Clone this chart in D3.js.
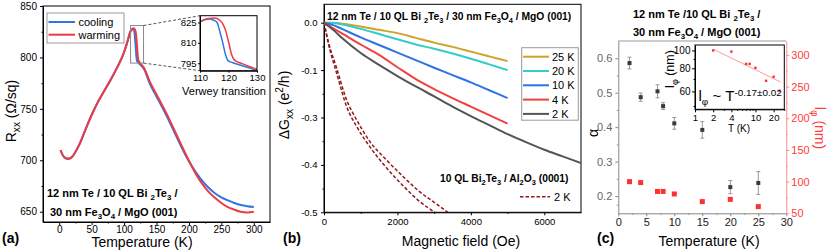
<!DOCTYPE html>
<html>
<head>
<meta charset="utf-8">
<script src="https://cdn.jsdelivr.net/npm/d3@7"></script>
<style>
body { margin: 0; background: #fff; }
svg { display: block; font-family: "Liberation Sans", Arial, sans-serif; }
</style>
</head>
<body>
<svg id="fig" width="830" height="252"></svg>
<script>
// ---- panel (a): R_xx vs temperature
var tempA = [2, 5, 10, 15, 20, 30, 40, 50, 60, 70, 80, 90, 100, 105, 110, 113, 115, 116, 117, 118, 119, 120, 121, 122, 125, 128, 130,
             140, 150, 160, 170, 180, 190, 200, 210, 220, 230, 240, 250, 260, 270, 280, 290, 300];
var coolingR = [710, 705.5, 702, 701.5, 703.5, 714, 729, 744, 757, 768, 779, 791, 805, 815, 825.5, 827.5, 826.5, 825, 818, 810, 801, 796.5, 795.8, 795, 793, 791, 789.5,
                774, 762, 750, 737.5, 724, 711, 699, 689, 680.5, 673.5, 668, 664, 661, 658.5, 656.5, 655.3, 654.5];
var warmingR = [710, 705.5, 702, 701.5, 703.5, 714, 729, 744, 757, 768, 779, 791, 805, 815, 825.5, 828, 828.3, 828, 826.5, 824, 819, 811, 802, 797.5, 794.5, 792, 790.5,
                776, 764, 752, 739.5, 726, 712.5, 699.5, 687.5, 677.5, 669.5, 663.5, 658.5, 654.5, 652, 650, 649.3, 650];
var rTicksA = [650, 700, 750, 800, 850];
var tTicksA = [0, 50, 100, 150, 200, 250, 300];
var insetTTicksA = [110, 120, 130];
var insetRTicksA = [795, 810, 825];
var legendA = ["cooling", "warming"];

// ---- panel (b): magnetoconductance
var fieldB = [0, 250, 500, 1000, 1500, 2000, 2500, 3000, 3500, 4000, 4500, 5000];
var g25 = [0, -0.0003, -0.002, -0.008, -0.015, -0.022, -0.032, -0.042, -0.051, -0.061, -0.071, -0.081];
var g20 = [0, -0.0006, -0.004, -0.013, -0.024, -0.035, -0.046, -0.055, -0.065, -0.076, -0.088, -0.100];
var g10 = [0, -0.005, -0.0135, -0.031, -0.047, -0.063, -0.079, -0.095, -0.121, -0.152, -0.185, -0.218];
var g4 = [0, -0.012, -0.023, -0.046, -0.068, -0.094, -0.138, -0.180, -0.218, -0.254, -0.290, -0.313];
var fieldB2 = [0, 250, 500, 1000, 1500, 2000, 2500, 3000, 3500, 4000, 4500, 5000, 5500, 6000, 6500, 7000];
var g2 = [0, -0.015, -0.033, -0.064, -0.089, -0.125, -0.169, -0.211, -0.254, -0.294, -0.316, -0.335, -0.352, -0.368, -0.382, -0.396];
var fieldD1 = [0, 118, 345, 617, 889, 1252, 1706, 2160, 2612, 3020];
var gD1 = [0, -0.0435, -0.1135, -0.254, -0.319, -0.362, -0.4065, -0.4445, -0.4776, -0.5];
var fieldD2 = [0, 118, 345, 617, 889, 1252, 1706, 2160, 2612, 3066, 3375];
var gD2 = [0, -0.040, -0.096, -0.226, -0.305, -0.351, -0.390, -0.425, -0.457, -0.4825, -0.5];
var gTicks = [0, -0.1, -0.3, -0.4, -0.5];
var gTickLabels = ["0.0", "-0.1", "-0.3", "-0.4", "-0.5"];
var hTicks = [0, 2000, 4000, 6000];
var legendB = ["25 K", "20 K", "10 K", "4 K", "2 K"];

// ---- panel (c): alpha and l_phi vs temperature
var tempC = [2, 4, 7, 8, 10, 15, 20, 25];
var alphaC = [0.586, 0.487, 0.504, 0.461, 0.411, 0.392, 0.226, 0.238];
var alphaErr = [0.017, 0.012, 0.019, 0.010, 0.017, 0.024, 0.019, 0.033];
var lphiC = [100, 98.5, 84.5, 84.5, 80.5, 68.5, 72, 60.5];
var fitT = [2, 26];
var fitL = [101.5, 67.5];
var tTicksC = [0, 5, 10, 15, 20, 25, 30];
var alphaTicks = [0.2, 0.3, 0.4, 0.5, 0.6];
var lphiTicks = [50, 100, 150, 200, 250, 300];
var insetLTicks = [60, 80, 100];
var insetTTicksC = [1, 2, 4, 10, 20];

var FONT = '"Liberation Sans", Arial, sans-serif';
var svg = d3.select("#fig");

// text with sub/superscripts: parts = [[text, "sub"|"sup"|undefined], ...]
function rich(parent, x, y, parts, size, o) {
  o = o || {};
  var ratio = o.ratio || 0.72;
  var t = parent.append("text").attr("x", x).attr("y", y)
      .attr("font-size", size).attr("font-family", FONT);
  if (o.anchor) t.attr("text-anchor", o.anchor);
  if (o.weight) t.attr("font-weight", o.weight);
  if (o.fill) t.attr("fill", o.fill);
  if (o.transform) t.attr("transform", o.transform);
  var cur = 0;
  parts.forEach(function(p) {
    var off = p[1] === "sub" ? size * (o.sub || 0.3) : p[1] === "sup" ? -size * (o.sup || 0.4) : 0;
    t.append("tspan").attr("dy", off - cur).attr("font-size", p[1] ? size * ratio : size).text(p[0]);
    cur = off;
  });
  return t;
}

function axis(g, fn, scale, ticks, minor, o) {
  var a = fn(scale).tickValues(ticks).tickSize(o.size).tickSizeOuter(0).tickPadding(o.pad);
  a.tickFormat(o.format || d3.format("d"));
  var ax = g.append("g").attr("transform", o.transform || null).call(a);
  ax.select(".domain").attr("stroke", o.color || "#000");
  ax.selectAll(".tick line").attr("stroke", o.color || "#000");
  ax.selectAll(".tick text").attr("fill", o.textColor || "#000")
    .attr("font-size", o.fs).attr("font-family", FONT);
  if (minor) {
    var m = g.append("g").attr("transform", o.transform || null)
      .call(fn(scale).tickValues(minor).tickSize(o.size / 2).tickSizeOuter(0).tickFormat(""));
    m.select(".domain").remove();
    m.selectAll("line").attr("stroke", o.color || "#000");
  }
  return ax;
}

function mids(arr) {
  var out = [];
  for (var i = 0; i < arr.length - 1; i++) out.push((arr[i] + arr[i + 1]) / 2);
  return out;
}

function initPanelA() {
  var L = 43, R = 270, T = 6, B = 222;
  var x = d3.scaleLinear().domain([-25, 325]).range([L, R]);
  var y = d3.scaleLinear().domain([640, 850]).range([B, T]);
  var g = svg.append("g");
  var blue = "#2B78E4", red = "#EE3A43";

  g.append("rect").attr("x", L).attr("y", T).attr("width", R - L).attr("height", B - T)
    .attr("fill", "none").attr("stroke", "#000");
  axis(g, d3.axisBottom, x, tTicksA, mids(tTicksA), {transform: "translate(0," + B + ")", size: 3, pad: 1, fs: 10});
  axis(g, d3.axisLeft, y, rTicksA, mids(rTicksA), {transform: "translate(" + L + ",0)", size: 3, pad: 3, fs: 10});

  var line = d3.line().x(function(d) { return x(d[0]); }).y(function(d) { return y(d[1]); }).curve(d3.curveMonotoneX);
  g.append("path").datum(d3.zip(tempA, coolingR)).attr("d", line).attr("fill", "none").attr("stroke", blue).attr("stroke-width", 2);
  g.append("path").datum(d3.zip(tempA, warmingR)).attr("d", line).attr("fill", "none").attr("stroke", red).attr("stroke-width", 2);

  // zoom box + connectors
  var zx0 = x(110), zx1 = x(130), zy0 = y(831), zy1 = y(794.5);
  g.append("rect").attr("x", zx0).attr("y", zy0).attr("width", zx1 - zx0).attr("height", zy1 - zy0)
    .attr("fill", "none").attr("stroke", "#888");

  // inset
  var iL = 200, iR = 257, iT = 15.7, iB = 70.7;
  var ix = d3.scaleLinear().domain([110, 130]).range([iL, iR]);
  var iy = d3.scaleLinear().domain([789.5, 830]).range([iB, iT]);
  g.append("line").attr("x1", zx1).attr("y1", zy0).attr("x2", iL).attr("y2", iT).attr("stroke", "#555").attr("stroke-dasharray", "3,2");
  g.append("line").attr("x1", zx1).attr("y1", zy1).attr("x2", iL).attr("y2", iB).attr("stroke", "#555").attr("stroke-dasharray", "3,2");
  g.append("rect").attr("x", iL).attr("y", iT).attr("width", iR - iL).attr("height", iB - iT).attr("fill", "#fff");
  svg.append("clipPath").attr("id", "clipA").append("rect").attr("x", iL).attr("y", iT).attr("width", iR - iL).attr("height", iB - iT);
  var iline = d3.line().x(function(d) { return ix(d[0]); }).y(function(d) { return iy(d[1]); }).curve(d3.curveMonotoneX);
  var gi = g.append("g").attr("clip-path", "url(#clipA)");
  gi.append("path").datum(d3.zip(tempA, coolingR)).attr("d", iline).attr("fill", "none").attr("stroke", blue).attr("stroke-width", 1.5);
  gi.append("path").datum(d3.zip(tempA, warmingR)).attr("d", iline).attr("fill", "none").attr("stroke", red).attr("stroke-width", 1.5);
  g.append("rect").attr("x", iL).attr("y", iT).attr("width", iR - iL).attr("height", iB - iT).attr("fill", "none").attr("stroke", "#000");
  axis(g, d3.axisBottom, ix, insetTTicksA, null, {transform: "translate(0," + iB + ")", size: 2, pad: 2, fs: 9.5});
  axis(g, d3.axisLeft, iy, insetRTicksA, null, {transform: "translate(" + iL + ",0)", size: 2, pad: 1.5, fs: 9.5});
  g.append("text").attr("x", 224).attr("y", 94.5).attr("text-anchor", "middle").attr("font-size", 11)
    .attr("font-family", FONT).text("Verwey transition");

  // legend
  g.append("rect").attr("x", 47).attr("y", 13).attr("width", 77).attr("height", 30).attr("fill", "#fff").attr("stroke", "#999");
  [blue, red].forEach(function(c, i) {
    var yy = 22 + i * 12.7;
    g.append("line").attr("x1", 48.5).attr("x2", 75).attr("y1", yy).attr("y2", yy).attr("stroke", c).attr("stroke-width", 2);
    g.append("text").attr("x", 78.5).attr("y", yy + 4).attr("font-size", 11).attr("font-family", FONT).text(legendA[i]);
  });

  rich(g, 47, 196.5, [["12 nm Te / 10 QL Bi "], ["2", "sub"], ["Te"], ["3", "sub"], [" /"]], 11, {weight: "bold"});
  rich(g, 50, 215.5, [["30 nm Fe"], ["3", "sub"], ["O"], ["4", "sub"], [" / MgO (001)"]], 11, {weight: "bold"});

  rich(g, 0, 0, [["R"], ["xx", "sub"], [" (Ω/sq)"]], 14, {anchor: "middle", transform: "translate(16,111) rotate(-90)"});
  g.append("text").attr("x", 142).attr("y", 247).attr("text-anchor", "middle").attr("font-size", 14)
    .attr("font-family", FONT).text("Temperature (K)");
  g.append("text").attr("x", 2).attr("y", 243).attr("font-size", 14).attr("font-weight", "bold")
    .attr("font-family", FONT).text("(a)");
}

function initPanelB() {
  var L = 324, R = 581, T = 4.3, B = 212.3;
  var x = d3.scaleLinear().domain([0, 7000]).range([L, R]);
  var step = (B - 22.7) / 4;
  var y = d3.scaleLinear().domain([0.0388, 0].concat(gTicks.slice(1)))
    .range([T, 22.7, 22.7 + step, 22.7 + 2 * step, 22.7 + 3 * step, B]);
  var g = svg.append("g");

  g.append("rect").attr("x", L).attr("y", T).attr("width", R - L).attr("height", B - T)
    .attr("fill", "none").attr("stroke", "#000");
  axis(g, d3.axisBottom, x, hTicks, [1000, 3000, 5000], {transform: "translate(0," + B + ")", size: 3, pad: 3, fs: 9.5});
  axis(g, d3.axisLeft, y, gTicks, [-0.05, -0.2, -0.35, -0.45], {transform: "translate(" + L + ",0)", size: 3, pad: 3.5, fs: 9.5,
    format: function(d, i) { return gTickLabels[i]; }});

  svg.append("clipPath").attr("id", "clipB").append("rect").attr("x", L).attr("y", T).attr("width", R - L).attr("height", B - T);
  var gc = g.append("g").attr("clip-path", "url(#clipB)");
  var line = d3.line().x(function(d) { return x(d[0]); }).y(function(d) { return y(d[1]); }).curve(d3.curveMonotoneX);
  var dash = "#8E1B1B";
  [gD1, gD2].forEach(function(s, i) {
    gc.append("path").datum(d3.zip(i ? fieldD2 : fieldD1, s)).attr("d", line).attr("fill", "none")
      .attr("stroke", dash).attr("stroke-width", 1.5).attr("stroke-dasharray", "3.5,2");
  });
  var colors = ["#CFA22B", "#34CCCB", "#2F72E6", "#F04040", "#555555"];
  var series = [g25, g20, g10, g4];
  series.forEach(function(s, i) {
    gc.append("path").datum(d3.zip(fieldB, s)).attr("d", line).attr("fill", "none")
      .attr("stroke", colors[i]).attr("stroke-width", 2);
  });
  gc.append("path").datum(d3.zip(fieldB2, g2)).attr("d", line).attr("fill", "none")
    .attr("stroke", colors[4]).attr("stroke-width", 2);

  // legend
  g.append("rect").attr("x", 521.7).attr("y", 47.7).attr("width", 56.6).attr("height", 72.5).attr("fill", "#fff").attr("stroke", "#999");
  legendB.forEach(function(lab, i) {
    var yy = 56.7 + i * 14.3;
    g.append("line").attr("x1", 523).attr("x2", 549).attr("y1", yy).attr("y2", yy).attr("stroke", colors[i]).attr("stroke-width", 2);
    g.append("text").attr("x", 552).attr("y", yy + 4).attr("font-size", 11).attr("font-family", FONT).text(lab);
  });
  g.append("line").attr("x1", 520).attr("x2", 550).attr("y1", 196.7).attr("y2", 196.7)
    .attr("stroke", dash).attr("stroke-width", 1.5).attr("stroke-dasharray", "3.5,2");
  g.append("text").attr("x", 554).attr("y", 200.7).attr("font-size", 11).attr("font-family", FONT).text("2 K");

  rich(g, 327, 20.3, [["12 nm Te / 10 QL Bi "], ["2", "sub"], ["Te"], ["3", "sub"], [" / 30 nm Fe"], ["3", "sub"], ["O"], ["4", "sub"], [" / MgO (001)"]], 10.3, {weight: "bold"});
  rich(g, 440, 181.5, [["10 QL Bi"], ["2", "sub"], ["Te"], ["3", "sub"], [" / Al"], ["2", "sub"], ["O"], ["3", "sub"], [" (0001)"]], 10.3, {weight: "bold"});

  rich(g, 0, 0, [["ΔG"], ["xx", "sub"], [" (e"], ["2", "sup"], ["/h)"]], 14, {anchor: "middle", transform: "translate(289,105) rotate(-90)"});
  g.append("text").attr("x", 461).attr("y", 246).attr("text-anchor", "middle").attr("font-size", 14)
    .attr("font-family", FONT).text("Magnetic field (Oe)");
  g.append("text").attr("x", 283).attr("y", 243).attr("font-size", 14).attr("font-weight", "bold")
    .attr("font-family", FONT).text("(b)");
}

function initPanelC() {
  var L = 618.3, R = 786.3, T = 41, B = 213.3;
  var x = d3.scaleLinear().domain([0, 30]).range([L, R]);
  var ya = d3.scaleLinear().domain([0.15, 0.65]).range([B, T]);
  var yl = d3.scaleLinear().domain([50, 322]).range([B, T]);
  var g = svg.append("g");
  var pink = "#FF8C8C", redT = "#FF3B3B";

  g.append("line").attr("x1", L).attr("x2", R).attr("y1", T).attr("y2", T).attr("stroke", "#999");
  axis(g, d3.axisBottom, x, tTicksC, mids(tTicksC), {transform: "translate(0," + B + ")", size: 3, pad: 2, fs: 11, color: "#888", textColor: "#222"});
  axis(g, d3.axisLeft, ya, alphaTicks, mids([0.15].concat(alphaTicks)), {transform: "translate(" + L + ",0)", size: 3, pad: 3, fs: 11, color: "#888", textColor: "#666",
    format: d3.format(".1f")});
  axis(g, d3.axisRight, yl, lphiTicks, mids(lphiTicks), {transform: "translate(" + R + ",0)", size: 3, pad: 2, fs: 11, color: pink, textColor: redT});

  // alpha with error bars
  tempC.forEach(function(t, i) {
    var cx = x(t);
    var y0 = ya(alphaC[i] - alphaErr[i]), y1 = ya(alphaC[i] + alphaErr[i]);
    g.append("line").attr("x1", cx).attr("x2", cx).attr("y1", y0).attr("y2", y1).attr("stroke", "#999");
    g.append("line").attr("x1", cx - 2).attr("x2", cx + 2).attr("y1", y0).attr("y2", y0).attr("stroke", "#999");
    g.append("line").attr("x1", cx - 2).attr("x2", cx + 2).attr("y1", y1).attr("y2", y1).attr("stroke", "#999");
    g.append("rect").attr("x", cx - 2).attr("y", ya(alphaC[i]) - 2).attr("width", 4).attr("height", 4).attr("fill", "#3a3a3a");
    g.append("rect").attr("x", cx - 2.5).attr("y", yl(lphiC[i]) - 2.5).attr("width", 5).attr("height", 5).attr("fill", "#FF3030");
  });

  // inset (log-log)
  var iL = 695, iR = 784.3, iT = 45, iB = 109.3;
  var ix = d3.scaleLog().domain([1, 30]).range([iL, iR]);
  var iy = d3.scaleLog().domain([48, 107]).range([iB, iT]);
  g.append("rect").attr("x", iL).attr("y", iT).attr("width", iR - iL).attr("height", iB - iT).attr("fill", "#fff").attr("stroke", "#000");
  axis(g, d3.axisBottom, ix, insetTTicksC, null, {transform: "translate(0," + iB + ")", size: 3, pad: 1.5, fs: 9.5});
  g.append("g").attr("transform", "translate(0," + iB + ")")
    .call(d3.axisBottom(ix).tickValues([3, 5, 6, 7, 8, 9, 30]).tickSize(1.5).tickSizeOuter(0).tickFormat(""))
    .call(function(s) { s.select(".domain").remove(); });
  axis(g, d3.axisLeft, iy, insetLTicks, [50, 70, 90], {transform: "translate(" + iL + ",0)", size: 3, pad: 1.5, fs: 10});
  g.append("path").datum(d3.zip(fitT, fitL))
    .attr("d", d3.line().x(function(d) { return ix(d[0]); }).y(function(d) { return iy(d[1]); }))
    .attr("stroke", "#FF9A9A").attr("fill", "none").attr("stroke-width", 1);
  tempC.forEach(function(t, i) {
    g.append("rect").attr("x", ix(t) - 1.2).attr("y", iy(lphiC[i]) - 1.2).attr("width", 2.4).attr("height", 2.4).attr("fill", "#FF3030");
  });
  rich(g, 698.5, 100.5, [["l"], ["φ", "sub"], [" ~ T"], ["-0.17±0.02", "sup"]], 15, {ratio: 0.66, sup: 0.3});
  rich(g, 0, 0, [["l"], ["φ", "sub"], [" (nm)"]], 12.5, {anchor: "middle", transform: "translate(674,69) rotate(-90)"});
  g.append("text").attr("x", 739).attr("y", 132).attr("text-anchor", "middle").attr("font-size", 10)
    .attr("font-family", FONT).text("T (K)");

  rich(g, 696.7, 17.8, [["12 nm Te /10 QL Bi "], ["2", "sub"], ["Te"], ["3", "sub"], [" /"]], 11, {weight: "bold", anchor: "middle"});
  rich(g, 696.7, 35.5, [["30 nm Fe"], ["3", "sub"], ["O"], ["4", "sub"], [" / MgO  (001)"]], 11, {weight: "bold", anchor: "middle"});

  g.append("text").attr("transform", "translate(598,133) rotate(-90)").attr("text-anchor", "middle")
    .attr("font-size", 14).attr("font-family", FONT).text("α");
  rich(g, 0, 0, [["l"], ["φ", "sub"], [" (nm)"]], 14, {anchor: "middle", transform: "translate(815,128) rotate(90)", fill: redT});
  g.append("text").attr("x", 709).attr("y", 246).attr("text-anchor", "middle").attr("font-size", 14)
    .attr("font-family", FONT).text("Temperature (K)");
  g.append("text").attr("x", 597).attr("y", 243).attr("font-size", 14).attr("font-weight", "bold")
    .attr("font-family", FONT).text("(c)");
}

initPanelA();
initPanelB();
initPanelC();
</script>
</body>
</html>
